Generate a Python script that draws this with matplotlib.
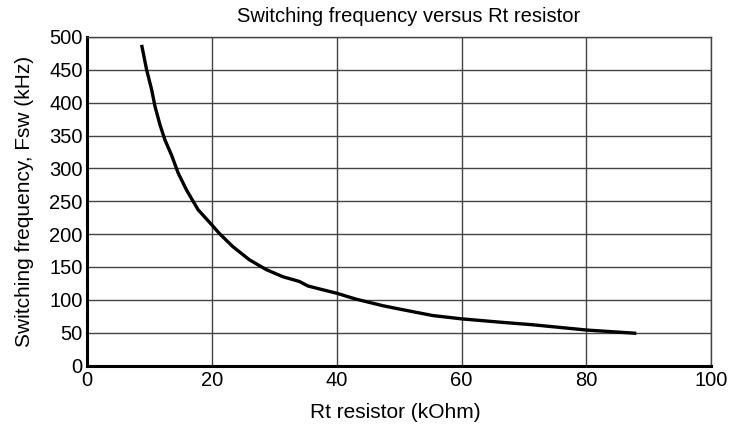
import matplotlib.pyplot as plt

plt.rcParams['font.family'] = ['Liberation Sans', 'DejaVu Sans']

# Rt resistor (kOhm) vs switching frequency (kHz)
rt_kohm = [8.75, 9.55, 10.35, 10.9, 11.7, 12.5, 13.55, 14.6, 15.95, 17.8,
           20.0, 21.2, 23.35, 26.0, 28.7, 31.4, 34.0, 35.4, 38.3, 40.0,
           43.1, 47.4, 50.0, 55.4, 60.0, 66.1, 71.4, 80.0, 88.0]
fsw_khz = [488, 450, 420, 394, 366, 343, 320, 293, 267, 237,
           214, 201, 181, 161, 146, 135, 128, 121, 114, 110,
           101, 91, 86, 76, 71, 66, 62, 54, 49]

x_ticks = [0, 20, 40, 60, 80, 100]
y_ticks = list(range(0, 501, 50))

fig = plt.figure(figsize=(7.3, 4.25), dpi=100)
ax = fig.add_axes([0.1192, 0.140, 0.855, 0.773])

ax.plot(rt_kohm, fsw_khz, color='black', linewidth=2.4,
        solid_capstyle='butt', solid_joinstyle='round')

ax.set_xlim(0, 100)
ax.set_ylim(0, 500)
ax.set_xticks(x_ticks)
ax.set_yticks(y_ticks)
ax.grid(True, color='#444444', linewidth=1.0)
ax.set_axisbelow(True)
ax.tick_params(length=0, labelsize=14.5, pad=3)
ax.tick_params(axis='x', pad=4)

for s in ['left', 'bottom']:
    ax.spines[s].set_linewidth(2.2)
    ax.spines[s].set_color('black')
for s in ['top', 'right']:
    ax.spines[s].set_linewidth(1.0)
    ax.spines[s].set_color('#444444')

ax.set_title('Switching frequency versus Rt resistor', fontsize=14.5,
             pad=11, x=0.515)
ax.set_xlabel('Rt resistor (kOhm)', fontsize=15, labelpad=9)
ax.xaxis.set_label_coords(0.494, -0.115)
ax.set_ylabel('Switching frequency, Fsw (kHz)', fontsize=15, labelpad=11)

fig.savefig('out.png', dpi=100)
